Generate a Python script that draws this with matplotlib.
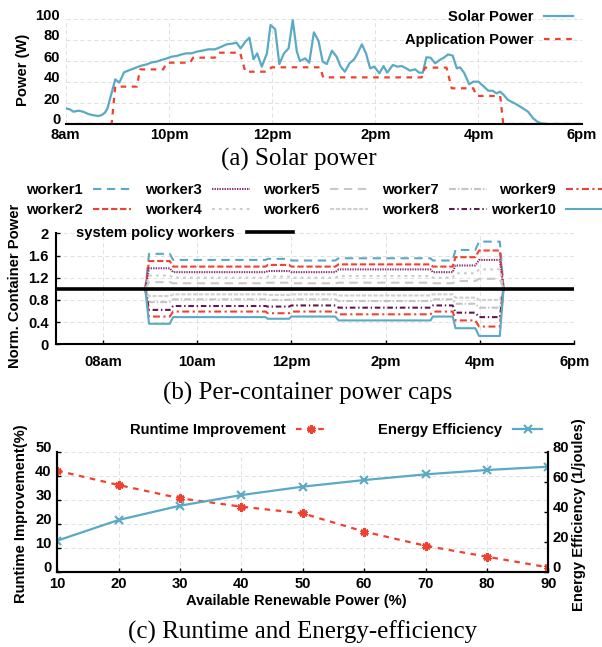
import matplotlib
matplotlib.use("Agg")
import matplotlib.pyplot as plt
import matplotlib.transforms as mtransforms

plt.rcParams['font.family'] = ['Liberation Sans', 'DejaVu Sans']
plt.rcParams['font.weight'] = 'bold'
plt.rcParams['axes.labelweight'] = 'bold'
plt.rcParams['font.size'] = 10.6
plt.rcParams['lines.scale_dashes'] = False

CYAN = '#5aa9c5'
RED = '#ef4130'
GRID = '#dcdcdc'

# ---- (a) solar power (hours of day, watts) ----
solar_t = [8.0, 8.08, 8.15, 8.25, 8.34, 8.44, 8.54, 8.63, 8.70, 8.76, 8.81, 8.87, 8.96, 9.04,
           9.13, 9.21, 9.31, 9.41, 9.47, 9.57, 9.67, 9.76, 9.86, 9.96, 10.05, 10.15, 10.25,
           10.34, 10.44, 10.54, 10.64, 10.76, 10.89, 10.99, 11.12, 11.22, 11.31, 11.39, 11.48,
           11.56, 11.64, 11.71, 11.80, 11.90, 11.97, 12.06, 12.14, 12.23, 12.32, 12.40, 12.48,
           12.54, 12.64, 12.72, 12.81, 12.90, 12.98, 13.06, 13.16, 13.25, 13.33, 13.41, 13.50,
           13.59, 13.65, 13.74, 13.82, 13.90, 13.98, 14.08, 14.16, 14.23, 14.34, 14.43, 14.51,
           14.60, 14.67, 14.77, 14.85, 14.92, 14.99, 15.07, 15.16, 15.25, 15.33, 15.41, 15.50,
           15.58, 15.64, 15.72, 15.82, 15.90, 16.00, 16.09, 16.19, 16.27, 16.35, 16.42, 16.49,
           16.57, 16.70, 16.83, 16.96, 17.06, 17.14, 17.22, 17.35, 18.0]
solar_p = [14.9, 14.0, 11.7, 12.7, 11.7, 9.5, 8.3, 7.6, 8.6, 10.8, 14.9, 26.0, 42.5, 39.4,
           49.2, 50.8, 52.7, 54.6, 55.6, 56.8, 58.7, 59.4, 61.0, 62.5, 64.1, 64.8, 66.3,
           67.3, 67.3, 68.9, 69.8, 71.1, 71.1, 73.0, 75.9, 76.5, 77.5, 72.0, 78.4,
           82.2, 61.6, 67.3, 54.6, 67.3, 94.3, 90.2, 57.1, 67.3, 72.0, 99.0, 68.9,
           60.0, 62.5, 58.4, 87.3, 79.0, 59.4, 57.1, 69.8, 64.1, 54.6, 49.8, 57.8,
           61.6, 66.7, 75.9, 67.3, 53.0, 54.6, 48.3, 55.2, 48.9, 56.2, 54.6, 55.2,
           53.0, 50.8, 52.1, 48.9, 48.9, 63.5, 63.2, 57.8, 61.0, 63.2, 66.3, 65.1,
           53.0, 54.0, 48.9, 37.8, 40.3, 40.3, 36.2, 31.7, 31.7, 29.2, 30.8, 27.6,
           22.9, 19.7, 15.9, 11.7, 5.4, 2.2, 0.6, 0.0, 0.0]
app_t = [8.0, 8.89, 8.96, 9.38, 9.44, 9.89, 9.96, 10.41, 10.47, 10.89, 10.96, 11.38, 11.48,
         11.90, 11.99, 12.93, 12.99, 14.90, 14.96, 15.38, 15.48, 15.90, 15.96, 16.42, 16.48, 18.0]
app_p = [0, 0, 35.6, 35.6, 52.0, 52.0, 58.4, 58.4, 63.2, 63.2, 67.9, 67.9, 49.8,
         49.8, 54.0, 54.0, 44.4, 44.4, 53.7, 53.7, 34.0, 34.0, 26.7, 26.7, 0, 0]
a_ticks = [8, 10, 12, 14, 16, 18]
a_labels = ['8am', '10pm', '12pm', '2pm', '4pm', '6pm']

# ---- (b) per-container caps: step levels per segment ----
cap_on, cap_off = 8.90, 16.50
seg_start = [8.98, 9.49, 11.50, 12.00, 13.00, 15.00, 15.48, 15.98]
seg_end = [9.42, 11.45, 11.95, 12.93, 14.95, 15.42, 15.90, 16.42]
workers = {
    'worker1': [1.63, 1.52, 1.54, 1.51, 1.55, 1.51, 1.70, 1.85],
    'worker2': [1.50, 1.40, 1.43, 1.40, 1.44, 1.40, 1.57, 1.69],
    'worker3': [1.37, 1.30, 1.32, 1.30, 1.35, 1.30, 1.42, 1.52],
    'worker4': [1.24, 1.20, 1.22, 1.20, 1.23, 1.20, 1.28, 1.35],
    'worker5': [1.12, 1.10, 1.11, 1.10, 1.11, 1.10, 1.14, 1.18],
    'worker6': [0.87, 0.90, 0.89, 0.90, 0.88, 0.90, 0.84, 0.80],
    'worker7': [0.76, 0.81, 0.80, 0.81, 0.78, 0.81, 0.73, 0.66],
    'worker8': [0.62, 0.69, 0.68, 0.70, 0.66, 0.70, 0.57, 0.49],
    'worker9': [0.50, 0.59, 0.56, 0.59, 0.54, 0.59, 0.43, 0.32],
    'worker10': [0.37, 0.49, 0.46, 0.50, 0.43, 0.50, 0.29, 0.15],
}
policy_t = [7, 18]
policy_v = [1.0, 1.0]
b_ticks = [8, 10, 12, 14, 16, 18]
b_labels = ['08am', '10am', '12pm', '2pm', '4pm', '6pm']

styles = {
    'worker1': dict(color=CYAN, dashes=(6, 4)),
    'worker2': dict(color=RED, dashes=(4.5, 2)),
    'worker3': dict(color='#8a3577', dashes=(1, 0.8)),
    'worker4': dict(color='#cccccc', dashes=(2, 3)),
    'worker5': dict(color='#c8c8c8', dashes=(6, 4)),
    'worker6': dict(color='#d0d0d0', dashes=(3, 1.2)),
    'worker7': dict(color='#c4c4c4', dashes=(5, 1.5, 1, 1.5)),
    'worker8': dict(color='#5e1a4e', dashes=(4, 2, 1, 2)),
    'worker9': dict(color=RED, dashes=(5, 2.5, 1.5, 2.5)),
    'worker10': dict(color=CYAN),
}

# ---- (c) runtime / efficiency ----
renew = [10, 20, 30, 40, 50, 60, 70, 80, 90]
runtime_imp = [42.1, 36.1, 30.6, 27.1, 24.3, 16.7, 10.8, 6.25, 1.8]
energy_eff = [20.7, 34.5, 44.0, 51.1, 56.7, 61.1, 64.9, 67.8, 70.0]

W, H = 602, 647
fig = plt.figure(figsize=(W / 100, H / 100), dpi=100)


def box(l, t, r, b):
    return [l / W, 1 - b / H, (r - l) / W, (b - t) / H]


def lift(ax, px):
    off = mtransforms.ScaledTranslation(0, px / 100, fig.dpi_scale_trans)
    for lb in ax.get_yticklabels():
        lb.set_transform(lb.get_transform() + off)


def gridify(ax):
    ax.grid(True, color=GRID, lw=0.6, dashes=(3, 2))
    ax.set_axisbelow(True)


# (a)
ax1 = fig.add_axes(box(65.7, 19, 581.7, 124))
ax1.plot(solar_t, solar_p, color=CYAN, lw=1.6, label='Solar Power')
ax1.plot(app_t, app_p, color=RED, lw=1.6, dashes=(4, 4), label='Application Power')
ax1.set_xlim(8, 18)
ax1.set_ylim(0, 100)
ax1.set_xticks(a_ticks)
ax1.set_xticklabels(a_labels)
ax1.set_yticks(range(0, 101, 20))
gridify(ax1)
for s in ['top', 'left', 'right']:
    ax1.spines[s].set_visible(False)
ax1.spines['bottom'].set_linewidth(1.5)
ax1.tick_params(length=0)
ax1.tick_params(axis='x', pad=3)
ax1.tick_params(axis='y', pad=4)
lift(ax1, 5)
ax1.legend(loc='upper right', bbox_to_anchor=(573 / W, 1 - 10 / H), bbox_transform=fig.transFigure,
           frameon=False, markerfirst=False, handlelength=2.0, handletextpad=0.7,
           borderpad=0, borderaxespad=0, labelspacing=0.6)
fig.text(23.5 / W, 1 - 70 / H, 'Power (W)', rotation=90, ha='center', va='center')
fig.text(299 / W, 1 - 159 / H, '(a) Solar power', family='Liberation Serif', weight='normal',
         size=18, ha='center', va='center')

# (b)
ax2 = fig.add_axes(box(55.7, 233.3, 574.3, 344.3))
handles = []
for name, lv in workers.items():
    xs = [cap_on]
    ys = [1.0]
    for s0, s1, v in zip(seg_start, seg_end, lv):
        xs += [s0, s1]
        ys += [v, v]
    xs.append(cap_off)
    ys.append(1.0)
    ln, = ax2.plot(xs, ys, lw=1.5, label=name, **styles[name])
    handles.append(ln)
pol, = ax2.plot(policy_t, policy_v, color='black', lw=2.6)
ax2.set_xlim(7, 18)
ax2.set_ylim(0, 2)
ax2.set_xticks(b_ticks)
ax2.set_xticklabels(b_labels)
ax2.set_yticks([0, 0.4, 0.8, 1.2, 1.6, 2])
ax2.set_yticklabels(['0', '0.4', '0.8', '1.2', '1.6', '2'])
gridify(ax2)
for s in ['top', 'right']:
    ax2.spines[s].set_visible(False)
for s in ['left', 'bottom']:
    ax2.spines[s].set_linewidth(1.5)
ax2.tick_params(direction='in', length=3, width=1)
ax2.tick_params(axis='x', pad=8)
ax2.tick_params(axis='y', pad=5)
ax2.legend([pol], ['system policy workers'], loc='upper left', bbox_to_anchor=(76 / W, 1 - 226 / H),
           bbox_transform=fig.transFigure, frameon=False, markerfirst=False, handlelength=3.1,
           handletextpad=0.85, borderpad=0, borderaxespad=0)
names = list(workers.keys())
leg_kw = dict(frameon=False, markerfirst=False, handlelength=2.6, handletextpad=0.7,
              columnspacing=0.9, borderpad=0, borderaxespad=0, labelspacing=0.4, loc='upper left')
fig.legend(handles[:8], names[:8], ncol=4, bbox_to_anchor=(26 / W, 1 - 183 / H), **leg_kw)
fig.legend(handles[8:], names[8:], ncol=1, bbox_to_anchor=(491 / W, 1 - 183 / H), **leg_kw)
fig.text(15.5 / W, 1 - 286 / H, 'Norm. Container Power', rotation=90, ha='center', va='center')
fig.text(308 / W, 1 - 393 / H, '(b) Per-container power caps', family='Liberation Serif',
         weight='normal', size=18, ha='center', va='center')

# (c)
ax3 = fig.add_axes(box(57.3, 451.7, 548.3, 571.7))
ax4 = ax3.twinx()
r_ln, = ax3.plot(renew, runtime_imp, color=RED, lw=1.6, dashes=(4, 4),
                 marker=(6, 2, 0), ms=6, mew=2)
e_ln, = ax4.plot(renew, energy_eff, color=CYAN, lw=1.6, marker='x', ms=6, mew=1.5)
ax3.set_xlim(10, 90)
ax3.set_ylim(0, 50)
ax4.set_ylim(0, 80)
ax3.set_xticks(renew)
ax3.set_yticks(range(0, 51, 10))
ax4.set_yticks(range(0, 81, 20))
gridify(ax3)
ax3.spines['top'].set_visible(False)
ax4.spines['top'].set_visible(False)
for a in (ax3, ax4):
    for s in ['left', 'bottom', 'right']:
        a.spines[s].set_linewidth(1.5)
ax3.tick_params(direction='in', length=3, width=1)
ax4.tick_params(direction='in', length=3, width=1)
ax3.tick_params(axis='x', pad=4)
ax3.tick_params(axis='y', pad=4)
ax4.tick_params(axis='y', pad=3)
lift(ax3, 5)
lift(ax4, 5)
fig.legend([r_ln, e_ln], ['Runtime Improvement', 'Energy Efficiency'], ncol=2, loc='upper left',
           bbox_to_anchor=(130 / W, 1 - 423 / H), frameon=False, markerfirst=False, handlelength=2.0,
           handletextpad=0.7, columnspacing=3.6, borderpad=0, borderaxespad=0)
fig.text(21 / W, 1 - 514 / H, 'Runtime Improvement(%)', rotation=90, ha='center', va='center')
fig.text(579.5 / W, 1 - 515 / H, 'Energy Efficiency (1/joules)', rotation=90, ha='center', va='center')
fig.text(296 / W, 1 - 601 / H, 'Available Renewable Power (%)', ha='center', va='center')
fig.text(303 / W, 1 - 632 / H, '(c) Runtime and Energy-efficiency', family='Liberation Serif',
         weight='normal', size=18, ha='center', va='center')

fig.savefig('out.png', dpi=100)
